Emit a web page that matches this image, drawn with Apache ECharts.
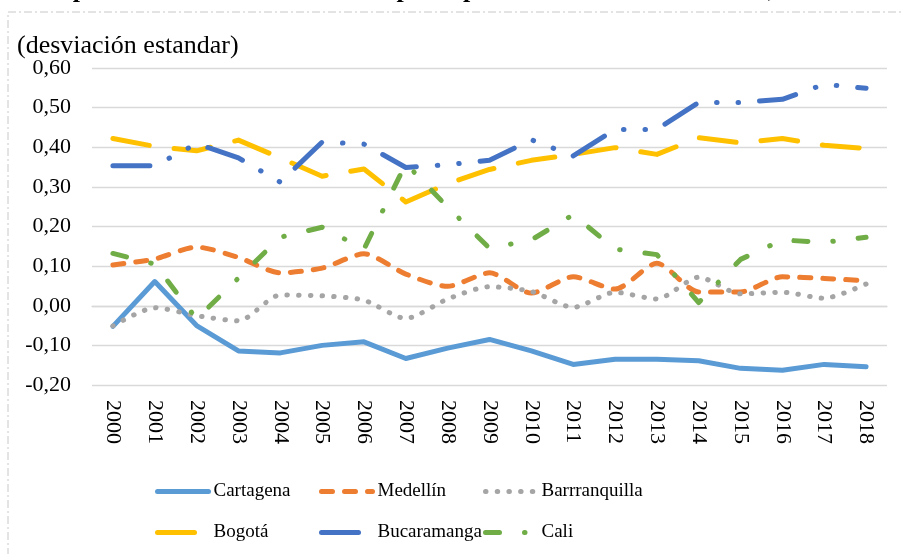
<!DOCTYPE html>
<html>
<head>
<meta charset="utf-8">
<script src="https://cdn.jsdelivr.net/npm/echarts@6/dist/echarts.min.js"></script>
<style>
html,body{margin:0;padding:0;background:#fff;}
#chart{width:902px;height:554px;}
</style>
</head>
<body>
<div id="chart"></div>
<script>
var years = ['2000','2001','2002','2003','2004','2005','2006','2007','2008','2009','2010','2011','2012','2013','2014','2015','2016','2017','2018'];
var yTicks = [-0.2, 0.6, 0.1];
var cartagena = [-0.052, 0.061, -0.050, -0.114, -0.119, -0.100, -0.091, -0.133, -0.107, -0.085, -0.114, -0.148, -0.135, -0.135, -0.139, -0.158, -0.163, -0.148, -0.154];
var medellin = [0.103, 0.118, 0.148, 0.122, 0.083, 0.095, 0.131, 0.080, 0.049, 0.083, 0.032, 0.073, 0.042, 0.107, 0.035, 0.035, 0.073, 0.069, 0.063];
var barranquilla = [-0.051, -0.005, -0.025, -0.038, 0.027, 0.025, 0.014, -0.032, 0.017, 0.048, 0.036, -0.004, 0.034, 0.017, 0.072, 0.030, 0.034, 0.019, 0.055];
var bogota = [0.422, 0.402, 0.391, 0.418, 0.373, 0.327, 0.345, 0.262, 0.308, 0.344, 0.367, 0.382, 0.399, 0.382, 0.424, 0.411, 0.422, 0.405, 0.397];
var bucaramanga = [0.353, 0.353, 0.409, 0.373, 0.312, 0.413, 0.408, 0.349, 0.356, 0.367, 0.419, 0.378, 0.445, 0.445, 0.513, 0.513, 0.521, 0.559, 0.549];
var cali = [0.132, 0.105, -0.033, 0.070, 0.173, 0.198, 0.143, 0.359, 0.249, 0.145, 0.166, 0.230, 0.143, 0.129, 0.008, 0.117, 0.166, 0.160, 0.173];
var names = ['Cartagena', 'Medellín', 'Barrranquilla', 'Bogotá', 'Bucaramanga', 'Cali'];
var titleText = 'Dispersión salarial entre las seis principales ciudades colombianas, 2000-2018';
var axisTitle = '(desviación estandar)';

var FONT = '"Liberation Serif", "Times New Roman", serif';
var chart = echarts.init(document.getElementById('chart'), null, {renderer: 'canvas'});
var LW = 5;

function mk(name, data, color, dash, smooth) {
  return {
    name: name, type: 'line', data: data, symbol: 'none', showSymbol: false, smooth: smooth || false,
    lineStyle: {color: color, width: LW, type: dash, cap: 'round', join: 'round'},
    itemStyle: {color: color},
    emphasis: {disabled: true}
  };
}

var legendText = {fontFamily: FONT, fontSize: 19, color: '#000'};
var legendLeft = [150, 314, 478];
var legendTop = [477, 518];
var legends = names.map(function (n, i) {
  return {data: [n], left: legendLeft[i % 3], top: legendTop[Math.floor(i / 3)],
    itemWidth: 51, itemHeight: 14, itemGap: 0,
    textStyle: legendText, selectedMode: false,
    itemStyle: {opacity: 0},
    lineStyle: {width: LW, cap: 'round'}};
});

chart.setOption({
  animation: false,
  backgroundColor: '#fff',
  grid: {left: 92, top: 68, width: 795, height: 317, containLabel: false},
  graphic: [
    {type: 'rect', shape: {x: 8, y: 12, width: 1000, height: 1000}, silent: true,
     style: {fill: 'none', stroke: '#c8c8c8', lineWidth: 1, lineDash: [8, 3, 2, 3]}},
    {type: 'text', x: 465, y: -10, silent: true,
     style: {text: titleText, fontFamily: FONT, fontSize: 26, fontWeight: 'bold', fill: '#000', align: 'center', verticalAlign: 'middle'}},
    {type: 'text', x: 17, y: 46, silent: true,
     style: {text: axisTitle, fontFamily: FONT, fontSize: 26, fill: '#000', align: 'left', verticalAlign: 'middle'}}
  ],
  legend: legends,
  xAxis: {
    type: 'category', data: years, boundaryGap: true,
    axisLine: {show: true, lineStyle: {color: '#d9d9d9', width: 1.3}},
    axisTick: {show: false},
    axisLabel: {rotate: -90, margin: 15, fontFamily: FONT, fontSize: 22, color: '#000'}
  },
  yAxis: {
    type: 'value', min: yTicks[0], max: yTicks[1], interval: yTicks[2],
    axisLine: {show: false}, axisTick: {show: false},
    splitLine: {lineStyle: {color: '#d9d9d9', width: 1.3}},
    axisLabel: {margin: 21, fontFamily: FONT, fontSize: 22, color: '#000',
      formatter: function (v) { return v.toFixed(2).replace('.', ','); }}
  },
  series: [
    mk(names[0], cartagena, '#5B9BD5', 'solid'),
    mk(names[1], medellin, '#ED7D31', [11, 12], 0.25),
    mk(names[2], barranquilla, '#A5A5A5', [0.5, 11.2], 0.25),
    mk(names[3], bogota, '#FFC000', [37, 25]),
    mk(names[4], bucaramanga, '#4472C4', [37, 21, 0.5, 21, 0.5, 21]),
    mk(names[5], cali, '#70AD47', [14, 25, 0.5, 25])
  ]
});
</script>
</body>
</html>
